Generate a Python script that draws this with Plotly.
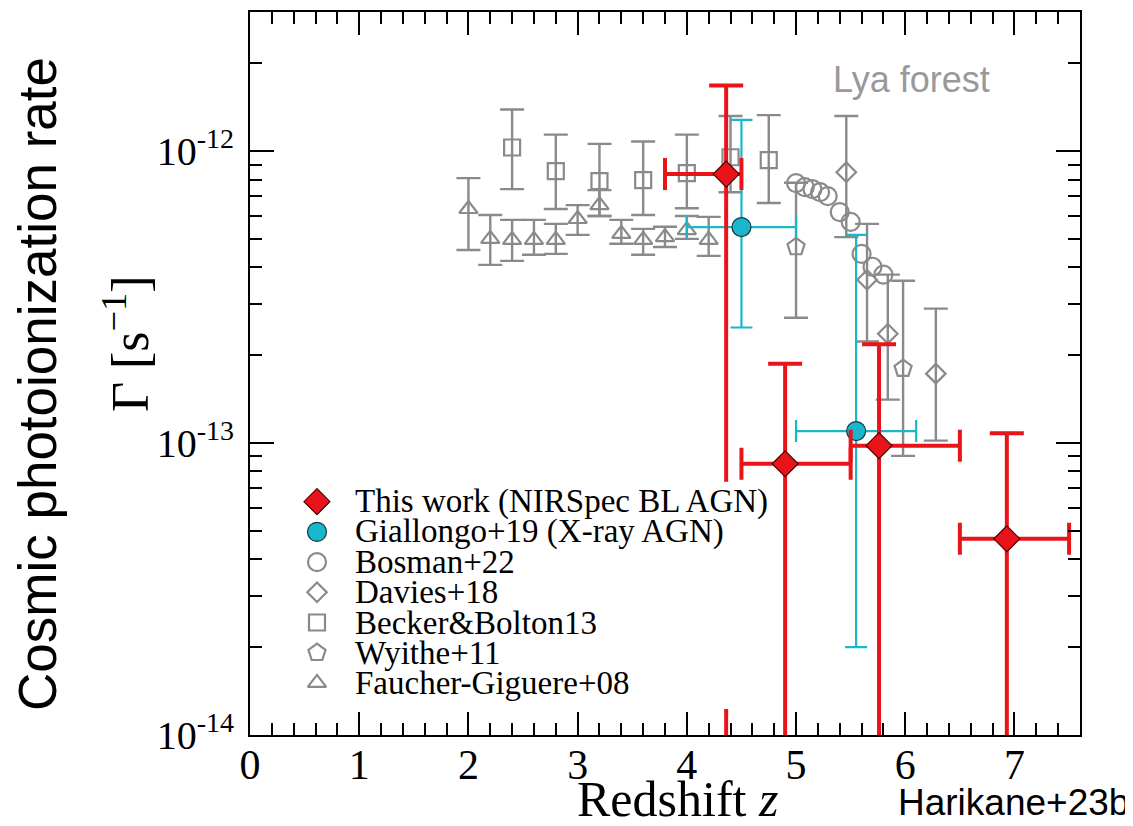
import plotly.graph_objects as go
import numpy as np

# ---------------- data ----------------
# This work (NIRSpec BL AGN)
tw_z = [4.36, 4.90, 5.76, 6.93]
tw_zlo = [3.80, 4.50, 5.50, 6.50]
tw_zhi = [4.50, 5.50, 6.50, 7.50]
tw_g = [8.35e-13, 8.5e-14, 9.8e-14, 4.7e-14]
tw_ghi = [1.68e-12, 1.87e-13, 2.18e-13, 1.08e-13]
tw_glo = [1e-16, 1e-16, 1e-16, 1e-16]  # unbounded below

# Giallongo+19 (X-ray AGN)
gi_z = [4.50, 5.55]
gi_zlo = [4.00, 5.00]
gi_zhi = [5.00, 6.10]
gi_g = [5.5e-13, 1.1e-13]
gi_ghi = [1.28e-12, 5.17e-13]
gi_glo = [2.49e-13, 2.0e-14]

# Bosman+22
bo_z = [5.00, 5.08, 5.15, 5.22, 5.29, 5.40, 5.50, 5.60, 5.70, 5.80]
bo_g = [7.78e-13, 7.54e-13, 7.42e-13, 7.24e-13, 7.02e-13, 6.19e-13, 5.73e-13, 4.45e-13, 4.02e-13, 3.78e-13]

# Davies+18
da_z = [5.46, 5.65, 5.84, 6.28]
da_g = [8.48e-13, 3.63e-13, 2.37e-13, 1.73e-13]
da_ghi = [1.32e-12, 5.64e-13, 3.78e-13, 2.89e-13]
da_glo = [5.08e-13, 2.23e-13, 1.41e-13, 1.02e-13]

# Becker & Bolton 13
bb_z = [2.4, 2.8, 3.2, 3.6, 4.0, 4.4, 4.75]
bb_g = [1.03e-12, 8.55e-13, 7.9e-13, 7.96e-13, 8.41e-13, 9.54e-13, 9.32e-13]
bb_ghi = [1.39e-12, 1.14e-12, 1.06e-12, 1.08e-12, 1.14e-12, 1.32e-12, 1.33e-12]
bb_glo = [7.42e-13, 6.34e-13, 6.0e-13, 6.05e-13, 6.38e-13, 7.24e-13, 6.65e-13]

# Wyithe+11
wy_z = [5.00, 5.98]
wy_g = [4.7e-13, 1.8e-13]
wy_ghi = [7.8e-13, 3.6e-13]
wy_glo = [2.69e-13, 9.04e-14]

# Faucher-Giguere+08
fg_z = [2.0, 2.2, 2.4, 2.6, 2.8, 3.0, 3.2, 3.4, 3.6, 3.8, 4.0, 4.2]
fg_g = [6.34e-13, 5.01e-13, 4.97e-13, 4.97e-13, 4.97e-13, 5.86e-13, 6.54e-13, 5.21e-13, 4.97e-13, 5.08e-13, 5.37e-13, 4.97e-13]
fg_ghi = [8.09e-13, 6.05e-13, 5.82e-13, 5.82e-13, 5.64e-13, 6.54e-13, 7.36e-13, 5.82e-13, 5.42e-13, 5.51e-13, 6.0e-13, 5.96e-13]
fg_glo = [4.59e-13, 4.08e-13, 4.21e-13, 4.42e-13, 4.45e-13, 5.17e-13, 6.0e-13, 4.82e-13, 4.42e-13, 4.70e-13, 5.01e-13, 4.38e-13]

legend_labels = ["This work (NIRSpec BL AGN)", "Giallongo+19 (X-ray AGN)", "Bosman+22",
                 "Davies+18", "Becker&Bolton13", "Wyithe+11", "Faucher-Giguere+08"]

x_ticks = [0, 1, 2, 3, 4, 5, 6, 7]
y_ticks = [1e-14, 1e-13, 1e-12]
y_ticktext = ["10<sup>-14</sup>", "10<sup>-13</sup>", "10<sup>-12</sup>"]

# ---------------- styles ----------------
RED = "#e8141a"
CYAN = "#1ab6cb"
GRAY = "#8a8a8a"
SERIF = "Liberation Serif"
SANS = "Liberation Sans"


def errs(v, hi, lo):
    v = np.array(v)
    return dict(plus=(np.array(hi) - v).tolist(), minus=(v - np.array(lo)).tolist())


fig = go.Figure()

gray_sets = [
    (fg_z, fg_g, fg_ghi, fg_glo, "triangle-up-open", 16),
    (wy_z, wy_g, wy_ghi, wy_glo, "pentagon-open", 18),
    (bb_z, bb_g, bb_ghi, bb_glo, "square-open", 16),
    (da_z, da_g, da_ghi, da_glo, "diamond-open", 15),
]
for z, g, hi, lo, sym, sz in gray_sets:
    e = errs(g, hi, lo)
    fig.add_trace(go.Scatter(
        x=z, y=g, mode="markers",
        marker=dict(symbol=sym, size=sz, color=GRAY, line=dict(color=GRAY, width=2.2)),
        error_y=dict(type="data", symmetric=False, array=e["plus"], arrayminus=e["minus"],
                     color=GRAY, thickness=2.4, width=12),
        showlegend=False, hoverinfo="skip"))

fig.add_trace(go.Scatter(
    x=bo_z, y=bo_g, mode="markers",
    marker=dict(symbol="circle-open", size=18, color=GRAY, line=dict(color=GRAY, width=2.2)),
    showlegend=False, hoverinfo="skip"))

# Giallongo+19
eg = errs(gi_g, gi_ghi, gi_glo)
ez = errs(gi_z, gi_zhi, gi_zlo)
fig.add_trace(go.Scatter(
    x=gi_z, y=gi_g, mode="markers",
    marker=dict(symbol="circle", size=19, color=CYAN, line=dict(color="#103a40", width=1.2)),
    error_y=dict(type="data", symmetric=False, array=eg["plus"], arrayminus=eg["minus"],
                 color=CYAN, thickness=2.2, width=11),
    error_x=dict(type="data", symmetric=False, array=ez["plus"], arrayminus=ez["minus"],
                 color=CYAN, thickness=2.2, width=11),
    showlegend=False, hoverinfo="skip"))

# This work
eg = errs(tw_g, tw_ghi, tw_glo)
ez = errs(tw_z, tw_zhi, tw_zlo)
fig.add_trace(go.Scatter(
    x=tw_z, y=tw_g, mode="markers",
    marker=dict(symbol="diamond", size=20, color=RED, line=dict(color="#4a0000", width=1.2)),
    error_y=dict(type="data", symmetric=False, array=eg["plus"], arrayminus=eg["minus"],
                 color=RED, thickness=4, width=17),
    error_x=dict(type="data", symmetric=False, array=ez["plus"], arrayminus=ez["minus"],
                 color=RED, thickness=4, width=16),
    showlegend=False, hoverinfo="skip"))

# ---------------- geometry (page has an 8px body margin) ----------------
OFF = 8
W, H = 1133 - OFF, 826 - OFF
PL, PR, PT, PB = 250, 1080, 10, 735          # plot frame in screenshot pixels
L, T = PL - OFF, PT - OFF
R, B = W - (PR - OFF), H - (PB - OFF)
pw, ph = PR - PL, PB - PT


def px(xp):
    return (xp - PL) / pw


def py(yp):
    return (PB - yp) / ph


# ---------------- manual legend (overlay axes in plot-fraction units) ----------------
bx0, bx1, by0, by1 = px(297), px(772), py(481), py(709)
fig.add_trace(go.Scatter(
    x=[bx0, bx1, bx1, bx0, bx0], y=[by0, by0, by1, by1, by0],
    xaxis="x2", yaxis="y2", mode="lines", fill="toself", fillcolor="white",
    line=dict(width=0, color="white"), showlegend=False, hoverinfo="skip"))

leg_style = [
    dict(symbol="diamond", size=20, color=RED, line=dict(color="#4a0000", width=1.2)),
    dict(symbol="circle", size=19, color=CYAN, line=dict(color="#103a40", width=1.2)),
    dict(symbol="circle-open", size=18, color=GRAY, line=dict(color=GRAY, width=2.2)),
    dict(symbol="diamond-open", size=15, color=GRAY, line=dict(color=GRAY, width=2.2)),
    dict(symbol="square-open", size=16, color=GRAY, line=dict(color=GRAY, width=2.2)),
    dict(symbol="pentagon-open", size=18, color=GRAY, line=dict(color=GRAY, width=2.2)),
    dict(symbol="triangle-up-open", size=16, color=GRAY, line=dict(color=GRAY, width=2.2)),
]
row0, drow = 501, 30.3
for i, (lab, st) in enumerate(zip(legend_labels, leg_style)):
    yy = py(row0 + i * drow)
    fig.add_trace(go.Scatter(x=[px(317)], y=[yy], xaxis="x2", yaxis="y2", mode="markers",
                             marker=st, showlegend=False, hoverinfo="skip"))
    fig.add_annotation(x=px(353), y=yy, xref="paper", yref="paper", text=lab,
                       showarrow=False, xanchor="left", yanchor="middle",
                       font=dict(family=SERIF, size=33, color="black"))

# ---------------- texts ----------------
def note(x, y, text, size, family, color="black", angle=0):
    fig.add_annotation(x=px(x), y=py(y), xref="paper", yref="paper", text=text,
                       showarrow=False, xanchor="center", yanchor="middle", textangle=angle,
                       font=dict(family=family, size=size, color=color))


note(911, 78, "Lya forest", 36, SANS, "#999999")
note(1013, 803, "Harikane+23b", 37, SANS)
note(677, 799, "Redshift <i>z</i>", 50, SERIF)
note(126, 343, "Γ [s<sup>−1</sup>]", 52, SERIF, angle=-90)
note(38, 383, "Cosmic photoionization rate", 53, SANS, angle=-90)

minor_y = [k * 10.0 ** e for e in (-14, -13, -12) for k in range(2, 10) if k * 10.0 ** e <= 3e-12]

fig.update_layout(
    width=W, height=H,
    margin=dict(l=L, r=R, t=T, b=B),
    paper_bgcolor="white", plot_bgcolor="white",
    showlegend=False,
    xaxis=dict(range=[0, 7.6], tickmode="array", tickvals=x_ticks,
               ticks="inside", ticklen=23, tickwidth=2, tickcolor="black",
               showline=True, linecolor="black", linewidth=2, mirror="ticks",
               showgrid=False, zeroline=False,
               minor=dict(dtick=0.2, ticks="inside", ticklen=12, tickwidth=2,
                          tickcolor="black", showgrid=False),
               tickfont=dict(family=SERIF, size=42, color="black"), ticklabelstandoff=-8),
    yaxis=dict(type="log", range=[-14, np.log10(3e-12)], tickmode="array",
               tickvals=y_ticks, ticktext=y_ticktext,
               ticks="inside", ticklen=24, tickwidth=2, tickcolor="black",
               showline=True, linecolor="black", linewidth=2, mirror="ticks",
               showgrid=False, zeroline=False,
               minor=dict(tickmode="array", tickvals=minor_y, ticks="inside", ticklen=12,
                          tickwidth=2, tickcolor="black", showgrid=False),
               tickfont=dict(family=SERIF, size=40, color="black"), ticklabelstandoff=6),
    xaxis2=dict(overlaying="x", range=[0, 1], visible=False, fixedrange=True),
    yaxis2=dict(overlaying="y", range=[0, 1], visible=False, fixedrange=True),
)

fig.write_html("out.html")
